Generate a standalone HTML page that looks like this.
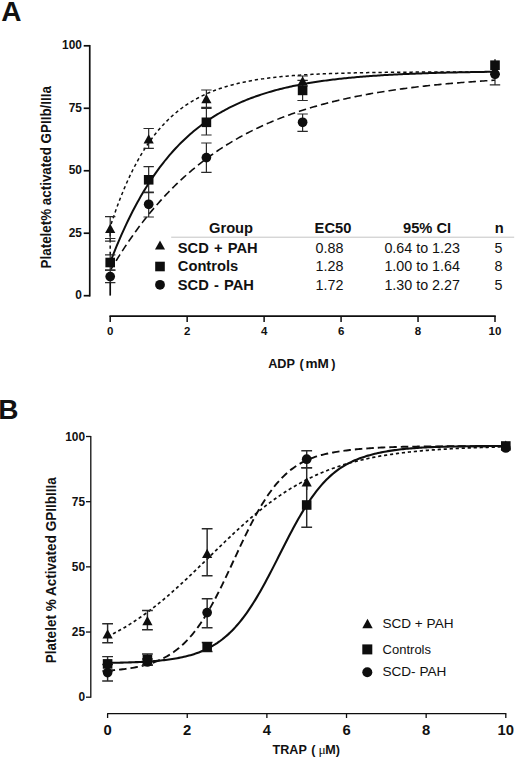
<!DOCTYPE html>
<html><head><meta charset="utf-8"><title>Figure</title>
<style>
html,body{margin:0;padding:0;background:#fff;}
body{width:520px;height:759px;overflow:hidden;}
svg{display:block;}
text{font-family:"Liberation Sans",sans-serif;fill:#111;}
.b{font-weight:bold;}
.mu{font-family:"Liberation Serif",serif;font-weight:normal;}
</style></head><body>
<svg width="520" height="759" viewBox="0 0 520 759">
<rect width="520" height="759" fill="#fff"/>

<text class="b" x="1.2" y="21" font-size="28">A</text>
<path d="M89.75,44.95 V296.55" stroke="#0e0e0e" stroke-width="1.7" fill="none"/>
<path d="M83.7,295.7 H89.75" stroke="#0e0e0e" stroke-width="1.7"/>
<text class="b" x="81.9" y="299.3" font-size="11.9" text-anchor="end">0</text>
<path d="M83.7,233.22 H89.75" stroke="#0e0e0e" stroke-width="1.7"/>
<text class="b" x="81.9" y="236.82" font-size="11.9" text-anchor="end">25</text>
<path d="M83.7,170.75 H89.75" stroke="#0e0e0e" stroke-width="1.7"/>
<text class="b" x="81.9" y="174.35" font-size="11.9" text-anchor="end">50</text>
<path d="M83.7,108.27 H89.75" stroke="#0e0e0e" stroke-width="1.7"/>
<text class="b" x="81.9" y="111.87" font-size="11.9" text-anchor="end">75</text>
<path d="M83.7,45.8 H89.75" stroke="#0e0e0e" stroke-width="1.7"/>
<text class="b" x="81.9" y="49.4" font-size="11.9" text-anchor="end">100</text>
<text class="b" font-size="13.9" textLength="182.3" lengthAdjust="spacingAndGlyphs" transform="translate(51.3,268.4) rotate(-90)">Platelet% activated GPIIb/IIIa</text>
<path d="M109.45,316.1 H495.75" stroke="#0e0e0e" stroke-width="1.7" fill="none"/>
<path d="M110.2,316.1 V321.9" stroke="#0e0e0e" stroke-width="1.5"/>
<text class="b" x="110.2" y="335.1" font-size="11.5" text-anchor="middle">0</text>
<path d="M187.16,316.1 V321.9" stroke="#0e0e0e" stroke-width="1.5"/>
<text class="b" x="187.16" y="335.1" font-size="11.5" text-anchor="middle">2</text>
<path d="M264.12,316.1 V321.9" stroke="#0e0e0e" stroke-width="1.5"/>
<text class="b" x="264.12" y="335.1" font-size="11.5" text-anchor="middle">4</text>
<path d="M341.08,316.1 V321.9" stroke="#0e0e0e" stroke-width="1.5"/>
<text class="b" x="341.08" y="335.1" font-size="11.5" text-anchor="middle">6</text>
<path d="M418.04,316.1 V321.9" stroke="#0e0e0e" stroke-width="1.5"/>
<text class="b" x="418.04" y="335.1" font-size="11.5" text-anchor="middle">8</text>
<path d="M495,316.1 V321.9" stroke="#0e0e0e" stroke-width="1.5"/>
<text class="b" x="495" y="335.1" font-size="11.5" text-anchor="middle">10</text>
<text class="b" font-size="12.7" y="367.5"><tspan x="268.2">ADP</tspan><tspan x="299.6">(</tspan><tspan x="305.4" textLength="23.4" lengthAdjust="spacingAndGlyphs">mM</tspan><tspan x="331.2">)</tspan></text>
<path d="M110.2,255 L110.2,226.98 L111.8,222.01 L113.41,217.21 L115.01,212.56 L116.61,208.06 L118.22,203.7 L119.82,199.48 L121.42,195.4 L123.03,191.45 L124.63,187.62 L126.23,183.92 L127.84,180.33 L129.44,176.86 L131.04,173.5 L132.65,170.25 L134.25,167.1 L135.85,164.05 L137.46,161.1 L139.06,158.25 L140.66,155.48 L142.27,152.8 L143.87,150.21 L145.47,147.71 L147.08,145.28 L148.68,142.93 L150.28,140.65 L151.89,138.45 L153.49,136.32 L155.09,134.26 L156.7,132.26 L158.3,130.33 L159.9,128.45 L161.51,126.64 L163.11,124.89 L164.71,123.19 L166.32,121.55 L167.92,119.95 L169.52,118.41 L171.13,116.92 L172.73,115.48 L174.33,114.08 L175.94,112.73 L177.54,111.42 L179.14,110.15 L180.75,108.93 L182.35,107.74 L183.95,106.59 L185.56,105.48 L187.16,104.4 L188.76,103.36 L190.37,102.35 L191.97,101.37 L193.57,100.42 L195.18,99.51 L196.78,98.62 L198.38,97.76 L199.99,96.93 L201.59,96.13 L203.19,95.35 L204.8,94.6 L206.4,93.87 L208,93.16 L209.61,92.48 L211.21,91.82 L212.81,91.18 L214.42,90.56 L216.02,89.96 L217.62,89.38 L219.23,88.81 L220.83,88.27 L222.43,87.74 L224.04,87.23 L225.64,86.74 L227.24,86.26 L228.85,85.8 L230.45,85.35 L232.05,84.92 L233.66,84.5 L235.26,84.09 L236.86,83.7 L238.47,83.32 L240.07,82.95 L241.67,82.59 L243.28,82.25 L244.88,81.91 L246.48,81.59 L248.09,81.27 L249.69,80.97 L251.29,80.68 L252.9,80.39 L254.5,80.12 L256.1,79.85 L257.71,79.59 L259.31,79.34 L260.91,79.1 L262.52,78.87 L264.12,78.64 L265.72,78.42 L267.33,78.21 L268.93,78.01 L270.53,77.81 L272.14,77.61 L273.74,77.43 L275.34,77.25 L276.95,77.07 L278.55,76.9 L280.15,76.74 L281.76,76.58 L283.36,76.43 L284.96,76.28 L286.57,76.14 L288.17,76 L289.77,75.86 L291.38,75.73 L292.98,75.61 L294.58,75.49 L296.19,75.37 L297.79,75.25 L299.39,75.14 L301,75.03 L302.6,74.93 L304.2,74.83 L305.81,74.73 L307.41,74.64 L309.01,74.55 L310.62,74.46 L312.22,74.37 L313.82,74.29 L315.43,74.21 L317.03,74.13 L318.63,74.06 L320.24,73.99 L321.84,73.92 L323.44,73.85 L325.05,73.78 L326.65,73.72 L328.25,73.66 L329.86,73.6 L331.46,73.54 L333.06,73.48 L334.67,73.43 L336.27,73.38 L337.87,73.33 L339.48,73.28 L341.08,73.23 L342.68,73.18 L344.29,73.14 L345.89,73.1 L347.49,73.05 L349.1,73.01 L350.7,72.97 L352.3,72.94 L353.91,72.9 L355.51,72.86 L357.11,72.83 L358.72,72.8 L360.32,72.76 L361.92,72.73 L363.53,72.7 L365.13,72.67 L366.73,72.65 L368.34,72.62 L369.94,72.59 L371.54,72.57 L373.15,72.54 L374.75,72.52 L376.35,72.49 L377.96,72.47 L379.56,72.45 L381.16,72.43 L382.77,72.41 L384.37,72.39 L385.97,72.37 L387.58,72.35 L389.18,72.33 L390.78,72.32 L392.39,72.3 L393.99,72.28 L395.59,72.27 L397.2,72.25 L398.8,72.24 L400.4,72.22 L402.01,72.21 L403.61,72.2 L405.21,72.18 L406.82,72.17 L408.42,72.16 L410.02,72.15 L411.63,72.13 L413.23,72.12 L414.83,72.11 L416.44,72.1 L418.04,72.09 L419.64,72.08 L421.25,72.07 L422.85,72.06 L424.45,72.06 L426.06,72.05 L427.66,72.04 L429.26,72.03 L430.87,72.02 L432.47,72.02 L434.07,72.01 L435.68,72 L437.28,71.99 L438.88,71.99 L440.49,71.98 L442.09,71.98 L443.69,71.97 L445.3,71.96 L446.9,71.96 L448.5,71.95 L450.11,71.95 L451.71,71.94 L453.31,71.94 L454.92,71.93 L456.52,71.93 L458.12,71.92 L459.73,71.92 L461.33,71.92 L462.93,71.91 L464.54,71.91 L466.14,71.9 L467.74,71.9 L469.35,71.9 L470.95,71.89 L472.55,71.89 L474.16,71.89 L475.76,71.88 L477.36,71.88 L478.97,71.88 L480.57,71.87 L482.17,71.87 L483.78,71.87 L485.38,71.87 L486.98,71.86 L488.59,71.86 L490.19,71.86 L491.79,71.86 L493.4,71.86 L495,71.85" stroke="#0e0e0e" stroke-width="1.5" stroke-dasharray="3.3 2.9" fill="none"/>
<path d="M110.2,270.71 L111.8,267.97 L113.41,265.27 L115.01,262.61 L116.61,259.99 L118.22,257.4 L119.82,254.85 L121.42,252.33 L123.03,249.85 L124.63,247.4 L126.23,244.99 L127.84,242.61 L129.44,240.26 L131.04,237.95 L132.65,235.67 L134.25,233.42 L135.85,231.2 L137.46,229.01 L139.06,226.85 L140.66,224.72 L142.27,222.62 L143.87,220.55 L145.47,218.51 L147.08,216.5 L148.68,214.51 L150.28,212.55 L151.89,210.62 L153.49,208.72 L155.09,206.84 L156.7,204.99 L158.3,203.17 L159.9,201.37 L161.51,199.59 L163.11,197.84 L164.71,196.11 L166.32,194.41 L167.92,192.73 L169.52,191.08 L171.13,189.44 L172.73,187.83 L174.33,186.25 L175.94,184.68 L177.54,183.14 L179.14,181.61 L180.75,180.11 L182.35,178.63 L183.95,177.17 L185.56,175.73 L187.16,174.31 L188.76,172.91 L190.37,171.53 L191.97,170.17 L193.57,168.83 L195.18,167.5 L196.78,166.2 L198.38,164.91 L199.99,163.64 L201.59,162.38 L203.19,161.15 L204.8,159.93 L206.4,158.73 L208,157.55 L209.61,156.38 L211.21,155.23 L212.81,154.09 L214.42,152.97 L216.02,151.87 L217.62,150.78 L219.23,149.7 L220.83,148.64 L222.43,147.6 L224.04,146.57 L225.64,145.55 L227.24,144.55 L228.85,143.56 L230.45,142.59 L232.05,141.63 L233.66,140.68 L235.26,139.75 L236.86,138.83 L238.47,137.92 L240.07,137.02 L241.67,136.14 L243.28,135.27 L244.88,134.41 L246.48,133.56 L248.09,132.73 L249.69,131.9 L251.29,131.09 L252.9,130.29 L254.5,129.5 L256.1,128.72 L257.71,127.95 L259.31,127.19 L260.91,126.45 L262.52,125.71 L264.12,124.98 L265.72,124.27 L267.33,123.56 L268.93,122.86 L270.53,122.18 L272.14,121.5 L273.74,120.83 L275.34,120.17 L276.95,119.52 L278.55,118.88 L280.15,118.25 L281.76,117.62 L283.36,117.01 L284.96,116.4 L286.57,115.81 L288.17,115.22 L289.77,114.64 L291.38,114.06 L292.98,113.5 L294.58,112.94 L296.19,112.39 L297.79,111.85 L299.39,111.31 L301,110.79 L302.6,110.27 L304.2,109.75 L305.81,109.25 L307.41,108.75 L309.01,108.26 L310.62,107.77 L312.22,107.3 L313.82,106.83 L315.43,106.36 L317.03,105.9 L318.63,105.45 L320.24,105 L321.84,104.56 L323.44,104.13 L325.05,103.7 L326.65,103.28 L328.25,102.87 L329.86,102.46 L331.46,102.05 L333.06,101.65 L334.67,101.26 L336.27,100.87 L337.87,100.49 L339.48,100.11 L341.08,99.74 L342.68,99.37 L344.29,99.01 L345.89,98.66 L347.49,98.3 L349.1,97.96 L350.7,97.62 L352.3,97.28 L353.91,96.95 L355.51,96.62 L357.11,96.3 L358.72,95.98 L360.32,95.66 L361.92,95.35 L363.53,95.05 L365.13,94.74 L366.73,94.45 L368.34,94.15 L369.94,93.86 L371.54,93.58 L373.15,93.3 L374.75,93.02 L376.35,92.75 L377.96,92.48 L379.56,92.21 L381.16,91.95 L382.77,91.69 L384.37,91.44 L385.97,91.18 L387.58,90.94 L389.18,90.69 L390.78,90.45 L392.39,90.21 L393.99,89.98 L395.59,89.75 L397.2,89.52 L398.8,89.29 L400.4,89.07 L402.01,88.85 L403.61,88.64 L405.21,88.42 L406.82,88.21 L408.42,88.01 L410.02,87.8 L411.63,87.6 L413.23,87.4 L414.83,87.21 L416.44,87.02 L418.04,86.82 L419.64,86.64 L421.25,86.45 L422.85,86.27 L424.45,86.09 L426.06,85.91 L427.66,85.74 L429.26,85.56 L430.87,85.39 L432.47,85.23 L434.07,85.06 L435.68,84.9 L437.28,84.74 L438.88,84.58 L440.49,84.42 L442.09,84.27 L443.69,84.12 L445.3,83.97 L446.9,83.82 L448.5,83.67 L450.11,83.53 L451.71,83.39 L453.31,83.25 L454.92,83.11 L456.52,82.97 L458.12,82.84 L459.73,82.71 L461.33,82.57 L462.93,82.45 L464.54,82.32 L466.14,82.19 L467.74,82.07 L469.35,81.95 L470.95,81.83 L472.55,81.71 L474.16,81.59 L475.76,81.48 L477.36,81.36 L478.97,81.25 L480.57,81.14 L482.17,81.03 L483.78,80.93 L485.38,80.82 L486.98,80.72 L488.59,80.61 L490.19,80.51 L491.79,80.41 L493.4,80.31 L495,80.22" stroke="#0e0e0e" stroke-width="1.6" stroke-dasharray="7.5 4" fill="none"/>
<path d="M110.2,262.46 L111.8,258.26 L113.41,254.15 L115.01,250.13 L116.61,246.2 L118.22,242.35 L119.82,238.59 L121.42,234.91 L123.03,231.32 L124.63,227.8 L126.23,224.36 L127.84,220.99 L129.44,217.7 L131.04,214.48 L132.65,211.33 L134.25,208.24 L135.85,205.23 L137.46,202.28 L139.06,199.4 L140.66,196.58 L142.27,193.82 L143.87,191.13 L145.47,188.49 L147.08,185.91 L148.68,183.38 L150.28,180.92 L151.89,178.5 L153.49,176.14 L155.09,173.83 L156.7,171.57 L158.3,169.36 L159.9,167.2 L161.51,165.09 L163.11,163.02 L164.71,161 L166.32,159.02 L167.92,157.09 L169.52,155.19 L171.13,153.34 L172.73,151.53 L174.33,149.76 L175.94,148.03 L177.54,146.34 L179.14,144.68 L180.75,143.06 L182.35,141.48 L183.95,139.93 L185.56,138.41 L187.16,136.93 L188.76,135.48 L190.37,134.06 L191.97,132.68 L193.57,131.32 L195.18,129.99 L196.78,128.69 L198.38,127.42 L199.99,126.18 L201.59,124.97 L203.19,123.78 L204.8,122.62 L206.4,121.48 L208,120.37 L209.61,119.28 L211.21,118.22 L212.81,117.18 L214.42,116.16 L216.02,115.17 L217.62,114.2 L219.23,113.25 L220.83,112.31 L222.43,111.4 L224.04,110.51 L225.64,109.64 L227.24,108.79 L228.85,107.96 L230.45,107.14 L232.05,106.35 L233.66,105.57 L235.26,104.8 L236.86,104.06 L238.47,103.33 L240.07,102.62 L241.67,101.92 L243.28,101.24 L244.88,100.57 L246.48,99.92 L248.09,99.28 L249.69,98.65 L251.29,98.04 L252.9,97.44 L254.5,96.86 L256.1,96.29 L257.71,95.73 L259.31,95.18 L260.91,94.65 L262.52,94.13 L264.12,93.61 L265.72,93.11 L267.33,92.62 L268.93,92.15 L270.53,91.68 L272.14,91.22 L273.74,90.77 L275.34,90.33 L276.95,89.9 L278.55,89.49 L280.15,89.08 L281.76,88.67 L283.36,88.28 L284.96,87.9 L286.57,87.52 L288.17,87.16 L289.77,86.8 L291.38,86.45 L292.98,86.1 L294.58,85.77 L296.19,85.44 L297.79,85.12 L299.39,84.8 L301,84.5 L302.6,84.2 L304.2,83.9 L305.81,83.62 L307.41,83.33 L309.01,83.06 L310.62,82.79 L312.22,82.53 L313.82,82.27 L315.43,82.02 L317.03,81.77 L318.63,81.53 L320.24,81.3 L321.84,81.07 L323.44,80.84 L325.05,80.62 L326.65,80.4 L328.25,80.19 L329.86,79.99 L331.46,79.79 L333.06,79.59 L334.67,79.4 L336.27,79.21 L337.87,79.02 L339.48,78.84 L341.08,78.67 L342.68,78.49 L344.29,78.32 L345.89,78.16 L347.49,78 L349.1,77.84 L350.7,77.68 L352.3,77.53 L353.91,77.39 L355.51,77.24 L357.11,77.1 L358.72,76.96 L360.32,76.83 L361.92,76.69 L363.53,76.56 L365.13,76.44 L366.73,76.31 L368.34,76.19 L369.94,76.07 L371.54,75.96 L373.15,75.85 L374.75,75.73 L376.35,75.63 L377.96,75.52 L379.56,75.42 L381.16,75.32 L382.77,75.22 L384.37,75.12 L385.97,75.02 L387.58,74.93 L389.18,74.84 L390.78,74.75 L392.39,74.66 L393.99,74.58 L395.59,74.5 L397.2,74.42 L398.8,74.34 L400.4,74.26 L402.01,74.18 L403.61,74.11 L405.21,74.04 L406.82,73.96 L408.42,73.89 L410.02,73.83 L411.63,73.76 L413.23,73.69 L414.83,73.63 L416.44,73.57 L418.04,73.51 L419.64,73.45 L421.25,73.39 L422.85,73.33 L424.45,73.28 L426.06,73.22 L427.66,73.17 L429.26,73.12 L430.87,73.07 L432.47,73.02 L434.07,72.97 L435.68,72.92 L437.28,72.87 L438.88,72.83 L440.49,72.78 L442.09,72.74 L443.69,72.7 L445.3,72.65 L446.9,72.61 L448.5,72.57 L450.11,72.53 L451.71,72.5 L453.31,72.46 L454.92,72.42 L456.52,72.39 L458.12,72.35 L459.73,72.32 L461.33,72.28 L462.93,72.25 L464.54,72.22 L466.14,72.19 L467.74,72.16 L469.35,72.13 L470.95,72.1 L472.55,72.07 L474.16,72.04 L475.76,72.01 L477.36,71.99 L478.97,71.96 L480.57,71.93 L482.17,71.91 L483.78,71.89 L485.38,71.86 L486.98,71.84 L488.59,71.81 L490.19,71.79 L491.79,71.77 L493.4,71.75 L495,71.73" stroke="#0e0e0e" stroke-width="2.0" fill="none"/>
<path d="M110.2,216.7 V241.2 M105,216.7 H115.4 M105,241.2 H115.4" stroke="#2a2a2a" stroke-width="1.2" fill="none"/>
<path d="M110.2,254.8 V270.2 M105,254.8 H115.4 M105,270.2 H115.4" stroke="#2a2a2a" stroke-width="1.2" fill="none"/>
<path d="M110.2,270.2 V282.6 M105,270.2 H115.4 M105,282.6 H115.4" stroke="#2a2a2a" stroke-width="1.2" fill="none"/>
<path d="M148.68,128.5 V148.4 M143.48,128.5 H153.88 M143.48,148.4 H153.88" stroke="#2a2a2a" stroke-width="1.2" fill="none"/>
<path d="M148.68,166.6 V192.7 M143.48,166.6 H153.88 M143.48,192.7 H153.88" stroke="#2a2a2a" stroke-width="1.2" fill="none"/>
<path d="M148.68,192 V217 M143.48,192 H153.88 M143.48,217 H153.88" stroke="#2a2a2a" stroke-width="1.2" fill="none"/>
<path d="M206.4,90 V107.3 M201.2,90 H211.6 M201.2,107.3 H211.6" stroke="#2a2a2a" stroke-width="1.2" fill="none"/>
<path d="M206.4,108.5 V135 M201.2,108.5 H211.6 M201.2,135 H211.6" stroke="#2a2a2a" stroke-width="1.2" fill="none"/>
<path d="M206.4,143 V172.4 M201.2,143 H211.6 M201.2,172.4 H211.6" stroke="#2a2a2a" stroke-width="1.2" fill="none"/>
<path d="M302.6,76 V86 M297.4,76 H307.8 M297.4,86 H307.8" stroke="#2a2a2a" stroke-width="1.2" fill="none"/>
<path d="M302.6,80.3 V100.5 M297.4,80.3 H307.8 M297.4,100.5 H307.8" stroke="#2a2a2a" stroke-width="1.2" fill="none"/>
<path d="M302.6,114 V131.3 M297.4,114 H307.8 M297.4,131.3 H307.8" stroke="#2a2a2a" stroke-width="1.2" fill="none"/>
<path d="M495,58.9 V79" stroke="#2a2a2a" stroke-width="1.2" fill="none"/>
<path d="M495,60.5 V70" stroke="#2a2a2a" stroke-width="1.2" fill="none"/>
<path d="M495,63.6 V84.8 M489.8,84.8 H500.2" stroke="#2a2a2a" stroke-width="1.2" fill="none"/>
<path d="M110.2,282.6 V295.6" stroke="#0e0e0e" stroke-width="1.7"/>
<path d="M105,238.5 H115.4" stroke="#2a2a2a" stroke-width="1"/>
<path d="M105.1,233 L115.3,233 L110.2,223.8 Z" fill="#0e0e0e"/>
<rect x="105.4" y="257.7" width="9.6" height="9.6" fill="#0e0e0e"/>
<circle cx="110.2" cy="276.6" r="4.85" fill="#0e0e0e"/>
<path d="M143.58,143.5 L153.78,143.5 L148.68,134.3 Z" fill="#0e0e0e"/>
<rect x="143.88" y="175" width="9.6" height="9.6" fill="#0e0e0e"/>
<circle cx="148.68" cy="204.3" r="4.85" fill="#0e0e0e"/>
<path d="M201.3,103.2 L211.5,103.2 L206.4,94 Z" fill="#0e0e0e"/>
<rect x="201.6" y="117.5" width="9.6" height="9.6" fill="#0e0e0e"/>
<circle cx="206.4" cy="157.6" r="4.85" fill="#0e0e0e"/>
<path d="M297.5,85.4 L307.7,85.4 L302.6,76.2 Z" fill="#0e0e0e"/>
<rect x="297.8" y="85.6" width="9.6" height="9.6" fill="#0e0e0e"/>
<circle cx="302.6" cy="122.3" r="4.85" fill="#0e0e0e"/>
<path d="M489.9,74.8 L500.1,74.8 L495,65.6 Z" fill="#0e0e0e"/>
<rect x="490.2" y="60.4" width="9.6" height="9.6" fill="#0e0e0e"/>
<circle cx="495" cy="74.2" r="4.85" fill="#0e0e0e"/>
<path d="M171.2,237.2 H514.2" stroke="#c4c4c4" stroke-width="1"/>
<text class="b" font-size="14.7" x="209" y="233.2">Group</text>
<text class="b" font-size="14.7" x="314.6" y="233.2">EC50</text>
<text class="b" font-size="14.7" x="403" y="233.2">95% CI</text>
<text class="b" font-size="14.7" x="494.8" y="233.2">n</text>
<text class="b" font-size="14.7" x="177.8" y="253.2" style="word-spacing:1.1px">SCD + PAH</text>
<text font-size="14.3" x="315.6" y="253.2">0.88</text>
<text font-size="14.3" x="384.4" y="253.2">0.64 to 1.23</text>
<text font-size="14.3" x="494.6" y="253.2">5</text>
<text class="b" font-size="14.7" x="177.8" y="271.4" style="word-spacing:1.1px">Controls</text>
<text font-size="14.3" x="315.6" y="271.4">1.28</text>
<text font-size="14.3" x="384.4" y="271.4">1.00 to 1.64</text>
<text font-size="14.3" x="494.6" y="271.4">8</text>
<text class="b" font-size="14.7" x="177.8" y="289.6" style="word-spacing:1.1px">SCD - PAH</text>
<text font-size="14.3" x="315.6" y="289.6">1.72</text>
<text font-size="14.3" x="384.4" y="289.6">1.30 to 2.27</text>
<text font-size="14.3" x="494.6" y="289.6">5</text>
<path d="M155,249.6 L165,249.6 L160,240.6 Z" fill="#0e0e0e"/>
<rect x="155.2" y="261.7" width="9.6" height="9.6" fill="#0e0e0e"/>
<circle cx="160" cy="284.8" r="4.9" fill="#0e0e0e"/>
<text class="b" x="-1.8" y="418.9" font-size="28">B</text>
<path d="M90.8,436 V697.8" stroke="#0e0e0e" stroke-width="1.3" fill="none"/>
<path d="M86.0,697.2 H90.8" stroke="#0e0e0e" stroke-width="1.3"/>
<text class="b" x="85.0" y="701.2" font-size="11.9" text-anchor="end">0</text>
<path d="M86.0,632.03 H90.8" stroke="#0e0e0e" stroke-width="1.3"/>
<text class="b" x="85.0" y="636.03" font-size="11.9" text-anchor="end">25</text>
<path d="M86.0,566.85 H90.8" stroke="#0e0e0e" stroke-width="1.3"/>
<text class="b" x="85.0" y="570.85" font-size="11.9" text-anchor="end">50</text>
<path d="M86.0,501.68 H90.8" stroke="#0e0e0e" stroke-width="1.3"/>
<text class="b" x="85.0" y="505.68" font-size="11.9" text-anchor="end">75</text>
<path d="M86.0,436.5 H90.8" stroke="#0e0e0e" stroke-width="1.3"/>
<text class="b" x="85.0" y="440.5" font-size="11.9" text-anchor="end">100</text>
<text class="b" font-size="13.8" textLength="186" lengthAdjust="spacingAndGlyphs" transform="translate(56.0,663.2) rotate(-90)">Platelet % Activated GPIIbIIIa</text>
<path d="M107.1,713.7 H506.4" stroke="#0e0e0e" stroke-width="1.3" fill="none"/>
<path d="M107.6,713.7 V718" stroke="#0e0e0e" stroke-width="1.3"/>
<text class="b" x="107.6" y="734.6" font-size="14.8" text-anchor="middle">0</text>
<path d="M187.24,713.7 V718" stroke="#0e0e0e" stroke-width="1.3"/>
<text class="b" x="187.24" y="734.6" font-size="14.8" text-anchor="middle">2</text>
<path d="M266.88,713.7 V718" stroke="#0e0e0e" stroke-width="1.3"/>
<text class="b" x="266.88" y="734.6" font-size="14.8" text-anchor="middle">4</text>
<path d="M346.52,713.7 V718" stroke="#0e0e0e" stroke-width="1.3"/>
<text class="b" x="346.52" y="734.6" font-size="14.8" text-anchor="middle">6</text>
<path d="M426.16,713.7 V718" stroke="#0e0e0e" stroke-width="1.3"/>
<text class="b" x="426.16" y="734.6" font-size="14.8" text-anchor="middle">8</text>
<path d="M505.8,713.7 V718" stroke="#0e0e0e" stroke-width="1.3"/>
<text class="b" x="505.8" y="734.6" font-size="14.8" text-anchor="middle">10</text>
<text class="b" font-size="12.6" y="754.4"><tspan x="272.5">TRAP</tspan><tspan x="311.3">(</tspan><tspan class="mu" x="318.6" font-size="13.5">μ</tspan><tspan x="325.3">M)</tspan></text>
<path d="M107.6,636.5 L109.26,635.69 L110.92,634.86 L112.58,634.02 L114.24,633.16 L115.9,632.28 L117.55,631.39 L119.21,630.48 L120.87,629.55 L122.53,628.6 L124.19,627.64 L125.85,626.66 L127.51,625.65 L129.17,624.64 L130.83,623.6 L132.49,622.54 L134.15,621.47 L135.81,620.38 L137.47,619.27 L139.12,618.14 L140.78,616.99 L142.44,615.83 L144.1,614.65 L145.76,613.45 L147.42,612.23 L149.08,610.99 L150.74,609.74 L152.4,608.47 L154.06,607.18 L155.72,605.87 L157.38,604.55 L159.03,603.21 L160.69,601.86 L162.35,600.49 L164.01,599.1 L165.67,597.7 L167.33,596.28 L168.99,594.85 L170.65,593.4 L172.31,591.95 L173.97,590.47 L175.63,588.99 L177.28,587.49 L178.94,585.98 L180.6,584.46 L182.26,582.92 L183.92,581.38 L185.58,579.83 L187.24,578.27 L188.9,576.7 L190.56,575.12 L192.22,573.53 L193.88,571.94 L195.54,570.34 L197.19,568.73 L198.85,567.12 L200.51,565.51 L202.17,563.89 L203.83,562.27 L205.49,560.65 L207.15,559.02 L208.81,557.4 L210.47,555.77 L212.13,554.15 L213.79,552.53 L215.45,550.9 L217.1,549.29 L218.76,547.67 L220.42,546.06 L222.08,544.45 L223.74,542.85 L225.4,541.25 L227.06,539.66 L228.72,538.08 L230.38,536.51 L232.04,534.94 L233.7,533.39 L235.36,531.84 L237.01,530.3 L238.67,528.78 L240.33,527.26 L241.99,525.76 L243.65,524.27 L245.31,522.79 L246.97,521.32 L248.63,519.87 L250.29,518.44 L251.95,517.01 L253.61,515.61 L255.27,514.21 L256.92,512.84 L258.58,511.47 L260.24,510.13 L261.9,508.8 L263.56,507.49 L265.22,506.19 L266.88,504.92 L268.54,503.66 L270.2,502.41 L271.86,501.19 L273.52,499.98 L275.18,498.79 L276.84,497.62 L278.49,496.46 L280.15,495.33 L281.81,494.21 L283.47,493.11 L285.13,492.03 L286.79,490.97 L288.45,489.92 L290.11,488.9 L291.77,487.89 L293.43,486.9 L295.09,485.93 L296.75,484.97 L298.4,484.04 L300.06,483.12 L301.72,482.22 L303.38,481.34 L305.04,480.47 L306.7,479.62 L308.36,478.79 L310.02,477.97 L311.68,477.18 L313.34,476.39 L315,475.63 L316.65,474.88 L318.31,474.15 L319.97,473.43 L321.63,472.73 L323.29,472.04 L324.95,471.37 L326.61,470.71 L328.27,470.07 L329.93,469.44 L331.59,468.83 L333.25,468.23 L334.91,467.64 L336.56,467.07 L338.22,466.51 L339.88,465.97 L341.54,465.43 L343.2,464.91 L344.86,464.41 L346.52,463.91 L348.18,463.43 L349.84,462.95 L351.5,462.49 L353.16,462.04 L354.82,461.61 L356.48,461.18 L358.13,460.76 L359.79,460.36 L361.45,459.96 L363.11,459.57 L364.77,459.2 L366.43,458.83 L368.09,458.47 L369.75,458.12 L371.41,457.78 L373.07,457.45 L374.73,457.13 L376.38,456.82 L378.04,456.51 L379.7,456.21 L381.36,455.92 L383.02,455.64 L384.68,455.36 L386.34,455.1 L388,454.84 L389.66,454.58 L391.32,454.33 L392.98,454.09 L394.64,453.86 L396.29,453.63 L397.95,453.41 L399.61,453.19 L401.27,452.98 L402.93,452.78 L404.59,452.58 L406.25,452.38 L407.91,452.2 L409.57,452.01 L411.23,451.83 L412.89,451.66 L414.55,451.49 L416.21,451.33 L417.86,451.17 L419.52,451.01 L421.18,450.86 L422.84,450.71 L424.5,450.57 L426.16,450.43 L427.82,450.3 L429.48,450.16 L431.14,450.04 L432.8,449.91 L434.46,449.79 L436.12,449.67 L437.77,449.56 L439.43,449.45 L441.09,449.34 L442.75,449.23 L444.41,449.13 L446.07,449.03 L447.73,448.94 L449.39,448.84 L451.05,448.75 L452.71,448.66 L454.37,448.58 L456.02,448.49 L457.68,448.41 L459.34,448.33 L461,448.26 L462.66,448.18 L464.32,448.11 L465.98,448.04 L467.64,447.97 L469.3,447.9 L470.96,447.84 L472.62,447.77 L474.28,447.71 L475.93,447.65 L477.59,447.6 L479.25,447.54 L480.91,447.48 L482.57,447.43 L484.23,447.38 L485.89,447.33 L487.55,447.28 L489.21,447.23 L490.87,447.19 L492.53,447.14 L494.19,447.1 L495.85,447.06 L497.5,447.02 L499.16,446.98 L500.82,446.94 L502.48,446.9 L504.14,446.86 L505.8,446.83" stroke="#0e0e0e" stroke-width="1.7" stroke-dasharray="3.2 2.8" fill="none"/>
<path d="M107.6,670.65 L109.26,670.53 L110.92,670.41 L112.58,670.28 L114.24,670.14 L115.9,669.99 L117.55,669.83 L119.21,669.66 L120.87,669.48 L122.53,669.29 L124.19,669.09 L125.85,668.88 L127.51,668.65 L129.17,668.4 L130.83,668.15 L132.49,667.87 L134.15,667.58 L135.81,667.27 L137.47,666.94 L139.12,666.59 L140.78,666.22 L142.44,665.82 L144.1,665.4 L145.76,664.96 L147.42,664.49 L149.08,663.99 L150.74,663.46 L152.4,662.9 L154.06,662.3 L155.72,661.67 L157.38,661 L159.03,660.29 L160.69,659.55 L162.35,658.75 L164.01,657.92 L165.67,657.03 L167.33,656.1 L168.99,655.11 L170.65,654.07 L172.31,652.97 L173.97,651.82 L175.63,650.6 L177.28,649.32 L178.94,647.97 L180.6,646.55 L182.26,645.07 L183.92,643.51 L185.58,641.87 L187.24,640.16 L188.9,638.36 L190.56,636.49 L192.22,634.53 L193.88,632.49 L195.54,630.37 L197.19,628.16 L198.85,625.86 L200.51,623.47 L202.17,621 L203.83,618.44 L205.49,615.79 L207.15,613.06 L208.81,610.24 L210.47,607.35 L212.13,604.37 L213.79,601.32 L215.45,598.19 L217.1,595 L218.76,591.74 L220.42,588.43 L222.08,585.06 L223.74,581.63 L225.4,578.17 L227.06,574.67 L228.72,571.14 L230.38,567.59 L232.04,564.02 L233.7,560.44 L235.36,556.85 L237.01,553.28 L238.67,549.71 L240.33,546.17 L241.99,542.65 L243.65,539.16 L245.31,535.71 L246.97,532.31 L248.63,528.96 L250.29,525.67 L251.95,522.44 L253.61,519.27 L255.27,516.18 L256.92,513.15 L258.58,510.21 L260.24,507.35 L261.9,504.57 L263.56,501.88 L265.22,499.27 L266.88,496.75 L268.54,494.31 L270.2,491.97 L271.86,489.71 L273.52,487.54 L275.18,485.46 L276.84,483.47 L278.49,481.56 L280.15,479.73 L281.81,477.98 L283.47,476.32 L285.13,474.73 L286.79,473.22 L288.45,471.79 L290.11,470.42 L291.77,469.13 L293.43,467.9 L295.09,466.74 L296.75,465.64 L298.4,464.6 L300.06,463.62 L301.72,462.69 L303.38,461.82 L305.04,460.99 L306.7,460.22 L308.36,459.48 L310.02,458.8 L311.68,458.15 L313.34,457.54 L315,456.97 L316.65,456.43 L318.31,455.93 L319.97,455.45 L321.63,455 L323.29,454.58 L324.95,454.18 L326.61,453.8 L328.27,453.44 L329.93,453.1 L331.59,452.77 L333.25,452.47 L334.91,452.17 L336.56,451.89 L338.22,451.62 L339.88,451.37 L341.54,451.12 L343.2,450.88 L344.86,450.66 L346.52,450.44 L348.18,450.23 L349.84,450.03 L351.5,449.84 L353.16,449.66 L354.82,449.48 L356.48,449.32 L358.13,449.15 L359.79,449 L361.45,448.85 L363.11,448.71 L364.77,448.58 L366.43,448.45 L368.09,448.33 L369.75,448.22 L371.41,448.11 L373.07,448 L374.73,447.9 L376.38,447.81 L378.04,447.72 L379.7,447.64 L381.36,447.55 L383.02,447.48 L384.68,447.41 L386.34,447.34 L388,447.27 L389.66,447.21 L391.32,447.15 L392.98,447.1 L394.64,447.05 L396.29,447 L397.95,446.95 L399.61,446.91 L401.27,446.86 L402.93,446.82 L404.59,446.79 L406.25,446.75 L407.91,446.72 L409.57,446.69 L411.23,446.66 L412.89,446.63 L414.55,446.6 L416.21,446.58 L417.86,446.55 L419.52,446.53 L421.18,446.51 L422.84,446.49 L424.5,446.47 L426.16,446.45 L427.82,446.44 L429.48,446.42 L431.14,446.4 L432.8,446.39 L434.46,446.38 L436.12,446.36 L437.77,446.35 L439.43,446.34 L441.09,446.33 L442.75,446.32 L444.41,446.31 L446.07,446.3 L447.73,446.29 L449.39,446.28 L451.05,446.28 L452.71,446.27 L454.37,446.26 L456.02,446.26 L457.68,446.25 L459.34,446.24 L461,446.24 L462.66,446.23 L464.32,446.23 L465.98,446.22 L467.64,446.22 L469.3,446.22 L470.96,446.21 L472.62,446.21 L474.28,446.2 L475.93,446.2 L477.59,446.2 L479.25,446.2 L480.91,446.19 L482.57,446.19 L484.23,446.19 L485.89,446.19 L487.55,446.18 L489.21,446.18 L490.87,446.18 L492.53,446.18 L494.19,446.18 L495.85,446.17 L497.5,446.17 L499.16,446.17 L500.82,446.17 L502.48,446.17 L504.14,446.17 L505.8,446.17" stroke="#0e0e0e" stroke-width="1.9" stroke-dasharray="7.5 4" fill="none"/>
<path d="M107.6,662.9 L109.26,662.87 L110.92,662.84 L112.58,662.81 L114.24,662.78 L115.9,662.75 L117.55,662.72 L119.21,662.68 L120.87,662.64 L122.53,662.6 L124.19,662.55 L125.85,662.51 L127.51,662.46 L129.17,662.4 L130.83,662.35 L132.49,662.29 L134.15,662.23 L135.81,662.16 L137.47,662.09 L139.12,662.01 L140.78,661.93 L142.44,661.85 L144.1,661.76 L145.76,661.66 L147.42,661.56 L149.08,661.45 L150.74,661.34 L152.4,661.21 L154.06,661.09 L155.72,660.95 L157.38,660.8 L159.03,660.65 L160.69,660.49 L162.35,660.31 L164.01,660.13 L165.67,659.93 L167.33,659.73 L168.99,659.51 L170.65,659.27 L172.31,659.03 L173.97,658.77 L175.63,658.49 L177.28,658.2 L178.94,657.89 L180.6,657.56 L182.26,657.21 L183.92,656.84 L185.58,656.45 L187.24,656.04 L188.9,655.6 L190.56,655.14 L192.22,654.65 L193.88,654.13 L195.54,653.59 L197.19,653.01 L198.85,652.4 L200.51,651.76 L202.17,651.08 L203.83,650.36 L205.49,649.61 L207.15,648.81 L208.81,647.97 L210.47,647.09 L212.13,646.16 L213.79,645.18 L215.45,644.15 L217.1,643.07 L218.76,641.93 L220.42,640.74 L222.08,639.49 L223.74,638.18 L225.4,636.8 L227.06,635.36 L228.72,633.86 L230.38,632.29 L232.04,630.64 L233.7,628.93 L235.36,627.15 L237.01,625.29 L238.67,623.35 L240.33,621.35 L241.99,619.26 L243.65,617.1 L245.31,614.87 L246.97,612.55 L248.63,610.16 L250.29,607.7 L251.95,605.16 L253.61,602.55 L255.27,599.87 L256.92,597.13 L258.58,594.31 L260.24,591.44 L261.9,588.5 L263.56,585.51 L265.22,582.46 L266.88,579.37 L268.54,576.24 L270.2,573.07 L271.86,569.86 L273.52,566.63 L275.18,563.38 L276.84,560.11 L278.49,556.83 L280.15,553.55 L281.81,550.27 L283.47,546.99 L285.13,543.74 L286.79,540.5 L288.45,537.29 L290.11,534.1 L291.77,530.96 L293.43,527.86 L295.09,524.8 L296.75,521.8 L298.4,518.85 L300.06,515.96 L301.72,513.13 L303.38,510.37 L305.04,507.67 L306.7,505.05 L308.36,502.5 L310.02,500.03 L311.68,497.63 L313.34,495.31 L315,493.07 L316.65,490.91 L318.31,488.82 L319.97,486.81 L321.63,484.88 L323.29,483.03 L324.95,481.26 L326.61,479.56 L328.27,477.93 L329.93,476.38 L331.59,474.89 L333.25,473.48 L334.91,472.13 L336.56,470.85 L338.22,469.63 L339.88,468.47 L341.54,467.37 L343.2,466.32 L344.86,465.32 L346.52,464.38 L348.18,463.49 L349.84,462.64 L351.5,461.83 L353.16,461.06 L354.82,460.33 L356.48,459.64 L358.13,458.98 L359.79,458.35 L361.45,457.75 L363.11,457.18 L364.77,456.64 L366.43,456.12 L368.09,455.62 L369.75,455.15 L371.41,454.7 L373.07,454.26 L374.73,453.85 L376.38,453.45 L378.04,453.08 L379.7,452.72 L381.36,452.37 L383.02,452.04 L384.68,451.73 L386.34,451.43 L388,451.15 L389.66,450.88 L391.32,450.62 L392.98,450.37 L394.64,450.14 L396.29,449.92 L397.95,449.7 L399.61,449.5 L401.27,449.31 L402.93,449.13 L404.59,448.96 L406.25,448.79 L407.91,448.64 L409.57,448.49 L411.23,448.35 L412.89,448.22 L414.55,448.09 L416.21,447.98 L417.86,447.86 L419.52,447.76 L421.18,447.66 L422.84,447.56 L424.5,447.47 L426.16,447.38 L427.82,447.3 L429.48,447.23 L431.14,447.15 L432.8,447.08 L434.46,447.02 L436.12,446.96 L437.77,446.9 L439.43,446.84 L441.09,446.79 L442.75,446.74 L444.41,446.7 L446.07,446.65 L447.73,446.61 L449.39,446.57 L451.05,446.53 L452.71,446.5 L454.37,446.46 L456.02,446.43 L457.68,446.4 L459.34,446.38 L461,446.35 L462.66,446.32 L464.32,446.3 L465.98,446.28 L467.64,446.26 L469.3,446.24 L470.96,446.22 L472.62,446.2 L474.28,446.18 L475.93,446.16 L477.59,446.15 L479.25,446.13 L480.91,446.12 L482.57,446.11 L484.23,446.1 L485.89,446.08 L487.55,446.07 L489.21,446.06 L490.87,446.05 L492.53,446.04 L494.19,446.04 L495.85,446.03 L497.5,446.02 L499.16,446.01 L500.82,446.01 L502.48,446 L504.14,445.99 L505.8,445.99" stroke="#0e0e0e" stroke-width="2.1" fill="none"/>
<path d="M107.6,623.8 V642.8 M102.2,623.8 H113 M102.2,642.8 H113" stroke="#2a2a2a" stroke-width="1.45" fill="none"/>
<path d="M107.6,656.6 V671 M102.2,656.6 H113 M102.2,671 H113" stroke="#2a2a2a" stroke-width="1.45" fill="none"/>
<path d="M107.6,664.5 V681 M102.2,664.5 H113 M102.2,681 H113" stroke="#2a2a2a" stroke-width="1.45" fill="none"/>
<path d="M147.42,610.5 V629.7 M142.02,610.5 H152.82 M142.02,629.7 H152.82" stroke="#2a2a2a" stroke-width="1.45" fill="none"/>
<path d="M147.42,654 V665.2 M142.02,654 H152.82 M142.02,665.2 H152.82" stroke="#2a2a2a" stroke-width="1.45" fill="none"/>
<path d="M147.42,659 V665 M142.02,659 H152.82 M142.02,665 H152.82" stroke="#2a2a2a" stroke-width="1.45" fill="none"/>
<path d="M207.15,528.8 V575.8 M201.75,528.8 H212.55 M201.75,575.8 H212.55" stroke="#2a2a2a" stroke-width="1.45" fill="none"/>
<path d="M207.15,642.5 V651.5 M201.75,642.5 H212.55 M201.75,651.5 H212.55" stroke="#2a2a2a" stroke-width="1.45" fill="none"/>
<path d="M207.15,598.8 V627.7 M201.75,598.8 H212.55 M201.75,627.7 H212.55" stroke="#2a2a2a" stroke-width="1.45" fill="none"/>
<path d="M306.7,467.8 V490 M301.3,467.8 H312.1" stroke="#2a2a2a" stroke-width="1.45" fill="none"/>
<path d="M306.7,482 V527.3 M301.3,527.3 H312.1" stroke="#2a2a2a" stroke-width="1.45" fill="none"/>
<path d="M306.7,450.8 V467.8 M301.3,450.8 H312.1 M301.3,467.8 H312.1" stroke="#2a2a2a" stroke-width="1.45" fill="none"/>
<path d="M505.8,443 V448" stroke="#2a2a2a" stroke-width="1.45" fill="none"/>
<path d="M505.8,444 V449" stroke="#2a2a2a" stroke-width="1.45" fill="none"/>
<path d="M505.8,445 V451" stroke="#2a2a2a" stroke-width="1.45" fill="none"/>
<path d="M102.5,638.5 L112.7,638.5 L107.6,629.3 Z" fill="#0e0e0e"/>
<circle cx="107.6" cy="672.6" r="4.85" fill="#0e0e0e"/>
<rect x="102.8" y="659.1" width="9.6" height="9.6" fill="#0e0e0e"/>
<path d="M142.32,625.2 L152.52,625.2 L147.42,616 Z" fill="#0e0e0e"/>
<circle cx="147.42" cy="662" r="4.85" fill="#0e0e0e"/>
<rect x="142.62" y="654.7" width="9.6" height="9.6" fill="#0e0e0e"/>
<path d="M202.05,558 L212.25,558 L207.15,548.8 Z" fill="#0e0e0e"/>
<circle cx="207.15" cy="612.6" r="4.85" fill="#0e0e0e"/>
<rect x="202.35" y="642.1" width="9.6" height="9.6" fill="#0e0e0e"/>
<path d="M301.6,486.5 L311.8,486.5 L306.7,477.3 Z" fill="#0e0e0e"/>
<circle cx="306.7" cy="459.2" r="4.85" fill="#0e0e0e"/>
<rect x="301.9" y="500.2" width="9.6" height="9.6" fill="#0e0e0e"/>
<path d="M500.7,449.6 L510.9,449.6 L505.8,440.4 Z" fill="#0e0e0e"/>
<circle cx="505.8" cy="448" r="4.85" fill="#0e0e0e"/>
<rect x="501" y="441.2" width="9.6" height="9.6" fill="#0e0e0e"/>
<path d="M362.3,628.3 L372.7,628.3 L367.5,618.8 Z" fill="#0e0e0e"/>
<rect x="362.3" y="644.4" width="10" height="10" fill="#0e0e0e"/>
<circle cx="367.3" cy="672.3" r="5" fill="#0e0e0e"/>
<text font-size="13.6" x="382.4" y="628.3">SCD + PAH</text>
<text font-size="13.0" x="382.6" y="653.9">Controls</text>
<text font-size="13.6" x="382.4" y="676.2">SCD- PAH</text>
</svg></body></html>
